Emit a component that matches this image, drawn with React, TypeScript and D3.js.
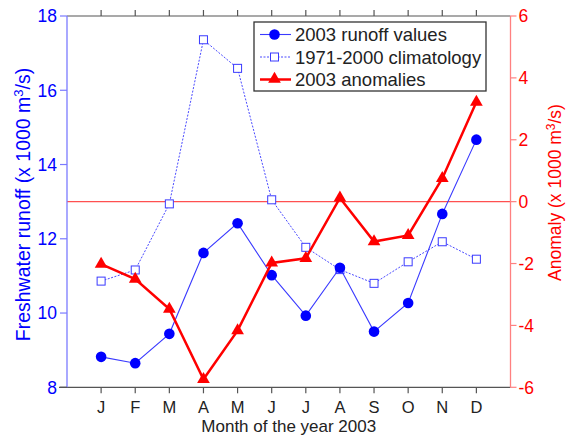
import React from "react";
import * as d3 from "d3";

const months = ["J", "F", "M", "A", "M", "J", "J", "A", "S", "O", "N", "D"];
const runoff2003 = [8.82, 8.65, 9.44, 11.62, 12.42, 11.02, 9.93, 11.22, 9.5, 10.27, 12.67, 14.67];
const climatology = [10.86, 11.16, 12.94, 17.36, 16.59, 13.05, 11.77, 11.17, 10.8, 11.38, 11.92, 11.45];
const anomalies = [-2.02, -2.5, -3.47, -5.74, -4.17, -1.98, -1.83, 0.12, -1.29, -1.09, 0.75, 3.22];
const leftTicks = [8, 10, 12, 14, 16, 18];
const rightTicks = [-6, -4, -2, 0, 2, 4, 6];

const W = 566;
const H = 436;
const L = 67;
const R = 510.5;
const T = 16;
const B = 387.3;

const FONT = "'Liberation Sans', Arial, sans-serif";
const BLUE = "#0000ff";
const BLUE_AXIS = "#7a7aff";
const RED = "#ff0000";
const RED_AXIS = "#ff8080";
const GRAY = "#555555";
const TEXT = "#222222";

export default function App() {
  const x = d3.scaleLinear().domain([0, 13]).range([L, R]);
  const yL = d3.scaleLinear().domain([8, 18]).range([B, T]);
  const yR = d3.scaleLinear().domain([-6, 6]).range([B, T]);
  const idx = months.map((_, i) => i + 1);

  const lineL = d3
    .line<number>()
    .x((_, i) => x(i + 1))
    .y((d) => yL(d));
  const lineR = d3
    .line<number>()
    .x((_, i) => x(i + 1))
    .y((d) => yR(d));

  const tri = d3.symbol().type(d3.symbolTriangle).size(70)();

  return (
    <svg
      width={W}
      height={H}
      style={{ position: "absolute", left: 0, top: 0, background: "#fff" }}
      fontFamily={FONT}
    >
      {/* zero anomaly reference */}
      <line x1={L} x2={R} y1={yR(0)} y2={yR(0)} stroke="#ff5050" strokeWidth={1.2} />

      {/* top and bottom axes */}
      <line x1={L} x2={R} y1={T} y2={T} stroke={GRAY} strokeWidth={1.2} />
      <line x1={L - 8} x2={R} y1={B} y2={B} stroke={GRAY} strokeWidth={1.2} />
      {idx.map((i) => (
        <g key={"xt" + i}>
          <line x1={x(i)} x2={x(i)} y1={T} y2={T - 6} stroke={GRAY} strokeWidth={1.2} />
          <line x1={x(i)} x2={x(i)} y1={B} y2={B + 6} stroke={GRAY} strokeWidth={1.2} />
          <text x={x(i)} y={412.5} textAnchor="middle" fontSize={16.5} fill={TEXT}>
            {months[i - 1]}
          </text>
        </g>
      ))}
      <text x={(L + R) / 2} y={431.5} textAnchor="middle" fontSize={17} fill={TEXT}>
        Month of the year 2003
      </text>

      {/* left axis */}
      <line x1={L} x2={L} y1={T} y2={B} stroke={BLUE_AXIS} strokeWidth={1.3} />
      {leftTicks.map((t) => (
        <g key={"lt" + t}>
          <line x1={L - 7} x2={L} y1={yL(t)} y2={yL(t)} stroke={t === 8 ? GRAY : BLUE_AXIS} strokeWidth={1.2} />
          <text x={L - 10} y={yL(t) + 6.3} textAnchor="end" fontSize={17.5} fill={BLUE}>
            {t}
          </text>
        </g>
      ))}
      <text
        transform={`translate(29.5, 204.5) rotate(-90)`}
        textAnchor="middle"
        fontSize={19.5}
        fill={BLUE}
      >
        Freshwater runoff (x 1000 m
        <tspan dy={-7} fontSize={13}>3</tspan>
        <tspan dy={7}>/s)</tspan>
      </text>

      {/* right axis */}
      <line x1={R} x2={R} y1={T} y2={B} stroke={RED_AXIS} strokeWidth={1.3} />
      {rightTicks.map((t) => (
        <g key={"rt" + t}>
          <line x1={R} x2={R + 6} y1={yR(t)} y2={yR(t)} stroke={RED_AXIS} strokeWidth={1.2} />
          <text x={R + 8} y={yR(t) + 6.3} textAnchor="start" fontSize={17.5} fill={RED}>
            {t}
          </text>
        </g>
      ))}
      <text
        transform={`translate(561, 192.5) rotate(-90)`}
        textAnchor="middle"
        fontSize={17.5}
        fill={RED}
      >
        Anomaly (x 1000 m
        <tspan dy={-6.5} fontSize={12}>3</tspan>
        <tspan dy={6.5}>/s)</tspan>
      </text>

      {/* climatology */}
      <path d={lineL(climatology) || ""} fill="none" stroke="#4a4aff" strokeWidth={1} strokeDasharray="2,1.5" />
      {climatology.map((v, i) => (
        <rect
          key={"c" + i}
          x={x(i + 1) - 4}
          y={yL(v) - 4}
          width={8}
          height={8}
          fill="#fff"
          stroke="#3a3aff"
          strokeWidth={1}
        />
      ))}

      {/* 2003 runoff */}
      <path d={lineL(runoff2003) || ""} fill="none" stroke="#3a3aff" strokeWidth={1.1} />
      {runoff2003.map((v, i) => (
        <circle key={"r" + i} cx={x(i + 1)} cy={yL(v)} r={5.3} fill={BLUE} />
      ))}

      {/* anomalies */}
      <path d={lineR(anomalies) || ""} fill="none" stroke={RED} strokeWidth={2.5} />
      {anomalies.map((v, i) => (
        <path key={"a" + i} d={tri || ""} transform={`translate(${x(i + 1)}, ${yR(v)})`} fill={RED} />
      ))}

      {/* legend */}
      <rect x={254} y={22} width={232} height={69} fill="#fff" stroke="#333" strokeWidth={1.3} />
      <line x1={260} x2={291} y1={34.5} y2={34.5} stroke="#3a3aff" strokeWidth={1.1} />
      <circle cx={274.5} cy={34.5} r={5.3} fill={BLUE} />
      <text x={295} y={40.8} fontSize={18.5} fill={TEXT}>2003 runoff values</text>
      <line x1={260} x2={291} y1={57} y2={57} stroke="#4a4aff" strokeWidth={1} strokeDasharray="2,1.5" />
      <rect x={270.5} y={53} width={8} height={8} fill="#fff" stroke="#3a3aff" strokeWidth={1} />
      <text x={295} y={63.5} fontSize={18.5} fill={TEXT}>1971-2000 climatology</text>
      <line x1={260} x2={291} y1={79.5} y2={79.5} stroke={RED} strokeWidth={2.5} />
      <path d={tri || ""} transform="translate(274.5, 79)" fill={RED} />
      <text x={295} y={85.8} fontSize={18.5} fill={TEXT}>2003 anomalies</text>
    </svg>
  );
}
